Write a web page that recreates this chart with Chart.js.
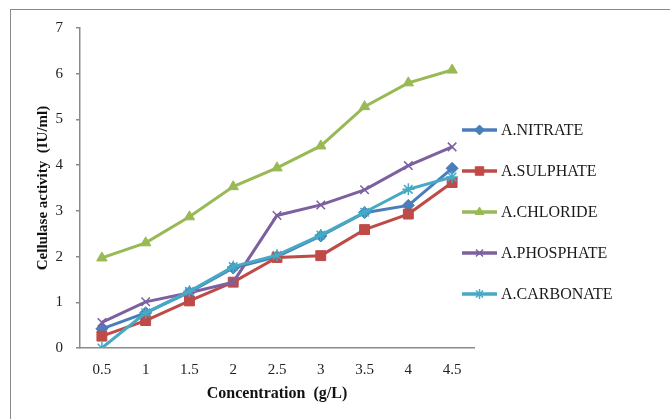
<!DOCTYPE html>
<html>
<head>
<meta charset="utf-8">
<script src="https://cdn.jsdelivr.net/npm/chart.js@4/dist/chart.umd.min.js"></script>
<style>
  html, body { margin: 0; padding: 0; background: #fff; }
  #wrap { position: relative; width: 670px; height: 419px; overflow: hidden; }
  #frame { position: absolute; left: 10px; top: 9px; width: 700px; height: 450px;
           border-left: 1.5px solid #8a8a8a; border-top: 1.5px solid #8a8a8a; }
  canvas { position: absolute; left: 0; top: 0; }
</style>
</head>
<body>
<div id="wrap">
  <div id="frame"></div>
  <canvas id="c" width="670" height="419"></canvas>
</div>
<script>
const categories = ['0.5', '1', '1.5', '2', '2.5', '3', '3.5', '4', '4.5'];
const nitrate   = [0.42, 0.77, 1.22, 1.75, 2.00, 2.45, 2.96, 3.12, 3.93];
const sulphate  = [0.26, 0.60, 1.03, 1.44, 1.98, 2.02, 2.59, 2.93, 3.62];
const chloride  = [1.97, 2.30, 2.87, 3.53, 3.94, 4.42, 5.28, 5.80, 6.08];
const phosphate = [0.56, 1.01, 1.21, 1.44, 2.90, 3.13, 3.46, 3.99, 4.40];
const carbonate = [0.00, 0.77, 1.24, 1.78, 2.03, 2.47, 2.97, 3.47, 3.74];
const yTicks = [0, 1, 2, 3, 4, 5, 6, 7];
const seriesNames = ['A.NITRATE', 'A.SULPHATE', 'A.CHLORIDE', 'A.PHOSPHATE', 'A.CARBONATE'];

const colors = ['#4A7EBB', '#BE4B48', '#98B954', '#7D60A0', '#46AAC5'];
const styles = ['rectRot', 'rect', 'triangle', 'crossRot', 'star'];
const radii  = [6, 7, 6, 6, 6];
const values = [nitrate, sulphate, chloride, phosphate, carbonate];

const serif = '"Liberation Serif", "Times New Roman", serif';

const datasets = values.map((v, i) => ({
  label: seriesNames[i],
  data: v,
  order: values.length - i,
  borderColor: colors[i],
  backgroundColor: colors[i],
  borderWidth: 3,
  pointStyle: styles[i],
  pointRadius: radii[i],
  pointBorderWidth: (styles[i] === 'crossRot' || styles[i] === 'star') ? 1.5 : 1,
  pointBorderColor: colors[i],
  pointBackgroundColor: colors[i],
  tension: 0,
  fill: false
}));

const legendPlugin = {
  id: 'customLegend',
  afterDraw(chart) {
    const ctx = chart.ctx;
    const x0 = 462, x1 = 497, tx = 501;
    const ys = [130, 171, 212, 253, 294];
    ctx.save();
    chart.data.datasets.forEach((ds, i) => {
      const y = ys[i];
      ctx.strokeStyle = ds.borderColor;
      ctx.fillStyle = ds.borderColor;
      ctx.lineWidth = 3.5;
      ctx.beginPath(); ctx.moveTo(x0, y); ctx.lineTo(x1, y); ctx.stroke();
      ctx.lineWidth = ds.pointBorderWidth;
      Chart.helpers.drawPoint(ctx, {
        pointStyle: ds.pointStyle,
        radius: ds.pointRadius - 1,
        rotation: 0,
        borderWidth: ds.pointBorderWidth
      }, (x0 + x1) / 2, y);
      ctx.fillStyle = '#1a1a1a';
      ctx.font = '16px ' + serif;
      ctx.textBaseline = 'middle';
      ctx.textAlign = 'left';
      ctx.fillText(ds.label, tx, y + 1);
    });
    ctx.restore();
  }
};

new Chart(document.getElementById('c'), {
  type: 'line',
  data: { labels: categories, datasets },
  options: {
    responsive: false,
    animation: false,
    layout: { padding: { left: 0, right: 196, top: 28, bottom: 0 } },
    plugins: { legend: { display: false }, tooltip: { enabled: false } },
    scales: {
      x: {
        type: 'category',
        offset: true,
        grid: { display: false, drawTicks: false },
        border: { display: true, color: '#8a8a8a', width: 1.5 },
        ticks: { color: '#222', font: { family: serif, size: 15 }, padding: 13, maxRotation: 0, autoSkip: false },
        title: { display: true, text: 'Concentration  (g/L)', color: '#111',
                 font: { family: serif, size: 16, weight: 'bold' }, padding: { top: 4, bottom: 16 } },
        afterFit(scale) { scale.height = 71; }
      },
      y: {
        min: 0, max: 7,
        afterBuildTicks(scale) { scale.ticks = yTicks.map(v => ({ value: v })); },
        grid: { display: true, drawOnChartArea: false, drawTicks: true, tickLength: 4, color: '#8a8a8a', lineWidth: 1.5 },
        border: { display: true, color: '#8a8a8a', width: 1.5 },
        ticks: { color: '#222', font: { family: serif, size: 15 }, padding: 13 },
        title: { display: true, text: 'Cellulase activity  (IU/ml)', color: '#111',
                 font: { family: serif, size: 15, weight: 'bold' }, padding: { top: 34, bottom: 0 } },
        afterFit(scale) { scale.width = 80; }
      }
    }
  },
  plugins: [legendPlugin]
});
</script>
</body>
</html>
